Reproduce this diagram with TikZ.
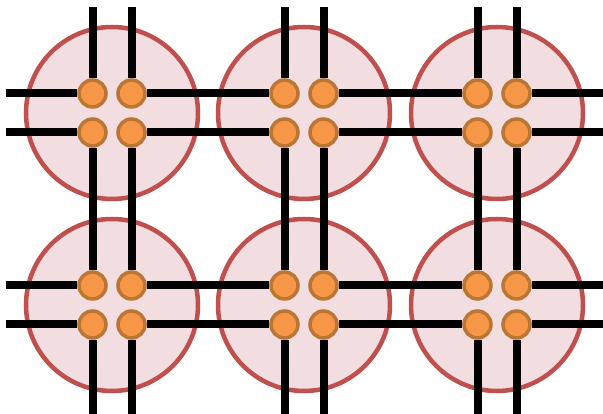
\documentclass[tikz,border=0pt]{standalone}
\usetikzlibrary{positioning}
\definecolor{cellfill}{RGB}{242,221,224}
\definecolor{cellline}{RGB}{192,80,77}
\definecolor{padfill}{RGB}{247,150,70}
\definecolor{padline}{RGB}{186,118,52}
\pgfdeclarelayer{bg}
\pgfsetlayers{bg,main}
\begin{document}
\begin{tikzpicture}[x=1pt, y=-1pt,
    cell/.style={circle, draw=cellline, fill=cellfill, line width=4.5pt, minimum size=172pt, inner sep=0pt},
    pad/.style={circle, draw=padline, fill=padfill, line width=3.5pt, minimum size=27pt, inner sep=0pt},
    wire/.style={line width=8pt, black}
]
\useasboundingbox (0,0) rectangle (603,414);

% cells with their four pads
\foreach \c/\x in {1/112,2/304,3/497}{
  \foreach \r/\y in {1/113,2/305}{
    \begin{pgfonlayer}{bg}
      \node[cell] (cell-\r-\c) at (\x,\y) {};
    \end{pgfonlayer}
    \node[pad] (tl-\r-\c) at (\x-19.5,\y-19.5) {};
    \node[pad] (tr-\r-\c) at (\x+19.5,\y-19.5) {};
    \node[pad] (bl-\r-\c) at (\x-19.5,\y+19.5) {};
    \node[pad] (br-\r-\c) at (\x+19.5,\y+19.5) {};
  }
  % free ends at top and bottom
  \coordinate (nl-\c) at (\x-19.5,7);
  \coordinate (nr-\c) at (\x+19.5,7);
  \coordinate (sl-\c) at (\x-19.5,414);
  \coordinate (sr-\c) at (\x+19.5,414);
}
% free ends at left and right
\foreach \r/\y in {1/113,2/305}{
  \coordinate (wt-\r) at (6,\y-19.5);
  \coordinate (wb-\r) at (6,\y+19.5);
  \coordinate (et-\r) at (603,\y-19.5);
  \coordinate (eb-\r) at (603,\y+19.5);
}

\begin{pgfonlayer}{bg}
% horizontal wires
\foreach \r in {1,2}{
  \draw[wire] (wt-\r) -- (tl-\r-1);
  \draw[wire] (wb-\r) -- (bl-\r-1);
  \foreach \c/\n in {1/2,2/3}{
    \draw[wire] (tr-\r-\c) -- (tl-\r-\n);
    \draw[wire] (br-\r-\c) -- (bl-\r-\n);
  }
  \draw[wire] (tr-\r-3) -- (et-\r);
  \draw[wire] (br-\r-3) -- (eb-\r);
}
% vertical wires
\foreach \c in {1,2,3}{
  \draw[wire] (nl-\c) -- (tl-1-\c);
  \draw[wire] (nr-\c) -- (tr-1-\c);
  \draw[wire] (bl-1-\c) -- (tl-2-\c);
  \draw[wire] (br-1-\c) -- (tr-2-\c);
  \draw[wire] (bl-2-\c) -- (sl-\c);
  \draw[wire] (br-2-\c) -- (sr-\c);
}
\end{pgfonlayer}
\end{tikzpicture}
\end{document}
